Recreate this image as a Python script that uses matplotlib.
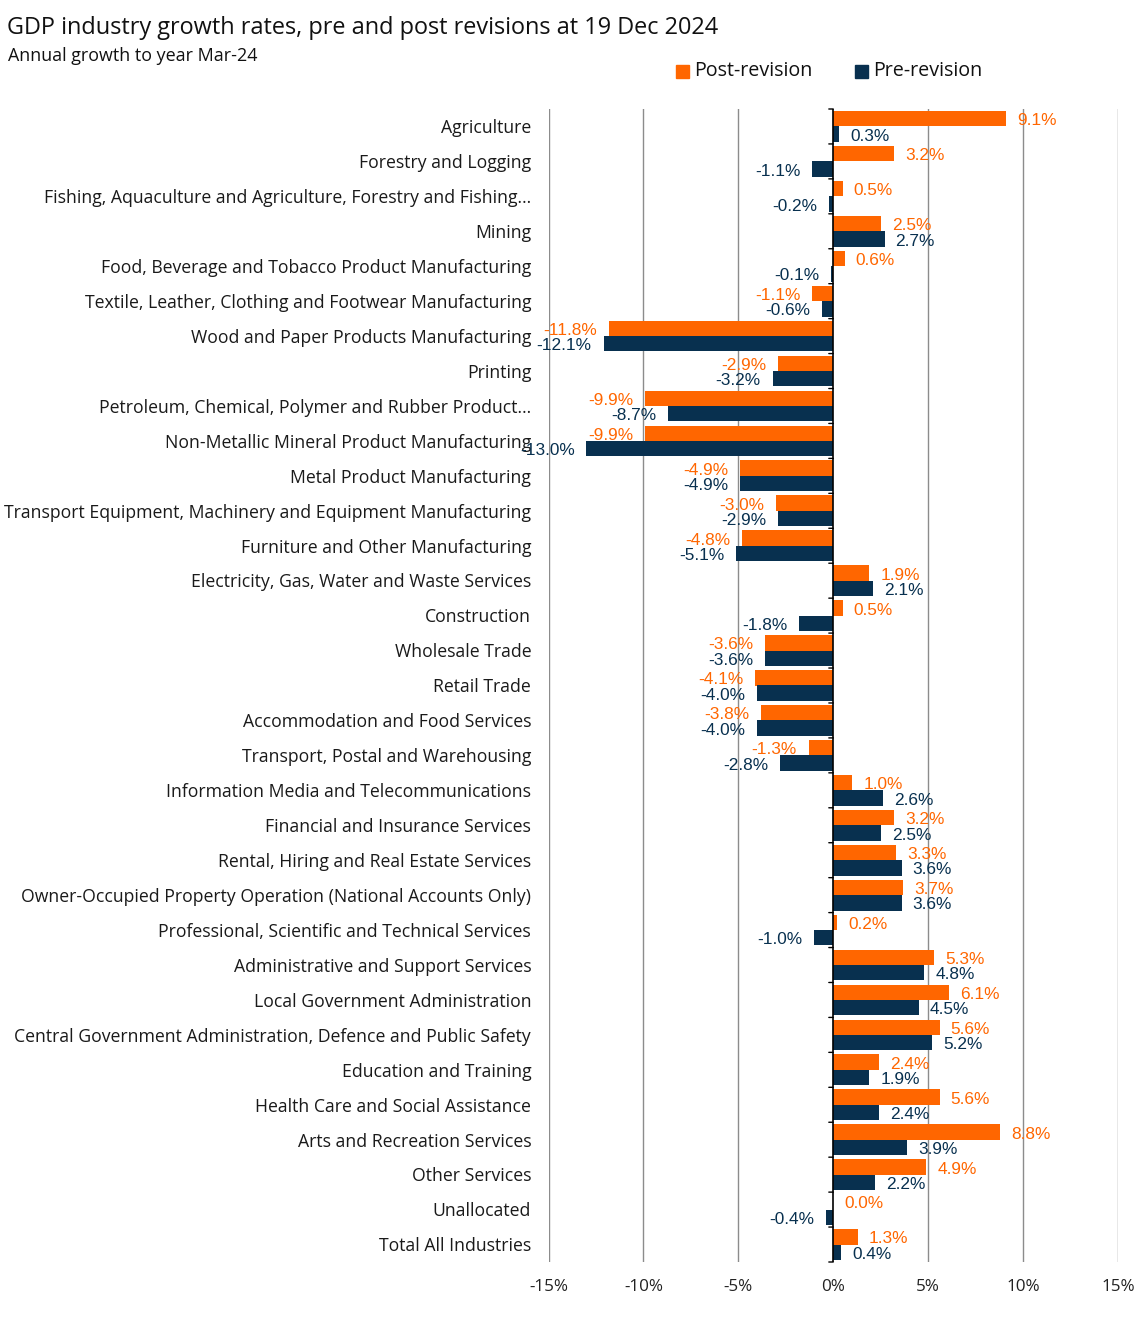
import matplotlib
matplotlib.use("Agg")
import matplotlib.pyplot as plt
import numpy as np
from matplotlib.patches import Rectangle

categories = [
    "Agriculture",
    "Forestry and Logging",
    "Fishing, Aquaculture and Agriculture, Forestry and Fishing\u2026",
    "Mining",
    "Food, Beverage and Tobacco Product Manufacturing",
    "Textile, Leather, Clothing and Footwear Manufacturing",
    "Wood and Paper Products Manufacturing",
    "Printing",
    "Petroleum, Chemical, Polymer and Rubber Product\u2026",
    "Non-Metallic Mineral Product Manufacturing",
    "Metal Product Manufacturing",
    "Transport Equipment, Machinery and Equipment Manufacturing",
    "Furniture and Other Manufacturing",
    "Electricity, Gas, Water and Waste Services",
    "Construction",
    "Wholesale Trade",
    "Retail Trade",
    "Accommodation and Food Services",
    "Transport, Postal and Warehousing",
    "Information Media and Telecommunications",
    "Financial and Insurance Services",
    "Rental, Hiring and Real Estate Services",
    "Owner-Occupied Property Operation (National Accounts Only)",
    "Professional, Scientific and Technical Services",
    "Administrative and Support Services",
    "Local Government Administration",
    "Central Government Administration, Defence and Public Safety",
    "Education and Training",
    "Health Care and Social Assistance",
    "Arts and Recreation Services",
    "Other Services",
    "Unallocated",
    "Total All Industries",
]

post_revision = [9.1, 3.2, 0.5, 2.5, 0.6, -1.1, -11.8, -2.9, -9.9, -9.9, -4.9, -3.0, -4.8,
                 1.9, 0.5, -3.6, -4.1, -3.8, -1.3, 1.0, 3.2, 3.3, 3.7, 0.2, 5.3, 6.1, 5.6,
                 2.4, 5.6, 8.8, 4.9, 0.0, 1.3]
pre_revision = [0.3, -1.1, -0.2, 2.7, -0.1, -0.6, -12.1, -3.2, -8.7, -13.0, -4.9, -2.9, -5.1,
                2.1, -1.8, -3.6, -4.0, -4.0, -2.8, 2.6, 2.5, 3.6, 3.6, -1.0, 4.8, 4.5, 5.2,
                1.9, 2.4, 3.9, 2.2, -0.4, 0.4]

x_ticks = [-15, -10, -5, 0, 5, 10, 15]
x_tick_labels = ["-15%", "-10%", "-5%", "0%", "5%", "10%", "15%"]

ORANGE = "#FF6600"
NAVY = "#08304F"
LABEL_FONT = ["Open Sans", "DejaVu Sans"]
VAL_FONT = ["Liberation Sans", "DejaVu Sans"]

W, H = 1147, 1340
fig = plt.figure(figsize=(W / 100, H / 100), dpi=100)
left_px, right_px, top_px, bot_px = 548.5, 1118, 109, 1262
ax = fig.add_axes([left_px / W, 1 - bot_px / H, (right_px - left_px) / W, (bot_px - top_px) / H])

n = len(categories)
y = np.arange(n)
h = 0.44
ax.barh(y - h / 2, post_revision, height=h, color=ORANGE, zorder=3)
ax.barh(y + h / 2, pre_revision, height=h, color=NAVY, zorder=3)

ax.set_xlim(-15, 15)
ax.set_ylim(n - 0.5, -0.5)
for s in ax.spines.values():
    s.set_visible(False)

# gridlines
for xv in x_ticks:
    if xv != 0:
        ax.axvline(xv, color="#8c8c8c", lw=1.0, zorder=1)
# zero axis with ticks
ax.axvline(0, color="black", lw=1.2, zorder=4)
for b in np.arange(n + 1) - 0.5:
    ax.annotate("", xy=(0, b), xycoords="data", xytext=(-3.2, 0), textcoords="offset points",
                arrowprops=dict(arrowstyle="-", color="black", lw=1.0, shrinkA=0, shrinkB=0))

ax.set_yticks([])
ax.set_xticks(x_ticks)
ax.set_xticklabels(x_tick_labels, fontsize=12.3, family=LABEL_FONT, color="#222222")
ax.tick_params(axis="x", length=0, pad=12)

# category labels
for i, c in enumerate(categories):
    ax.annotate(c, xy=(0, i), xycoords=("axes fraction", "data"), xytext=(-12.5, -1.3),
                textcoords="offset points", ha="right", va="center", fontsize=12.7,
                family=LABEL_FONT, color="#1a1a1a")

# value labels
def add_labels(vals, offset, color):
    for i, v in enumerate(vals):
        yy = i + offset
        if v >= 0:
            ax.annotate(f"{v:.1f}%", xy=(v, yy), xytext=(8, -1.5), textcoords="offset points",
                        ha="left", va="center", fontsize=12.4, family=VAL_FONT, color=color, zorder=5)
        else:
            ax.annotate(f"{v:.1f}%", xy=(v, yy), xytext=(-8.5, -1.5), textcoords="offset points",
                        ha="right", va="center", fontsize=12.4, family=VAL_FONT, color=color, zorder=5)

add_labels(post_revision, -h / 2, ORANGE)
add_labels(pre_revision, h / 2, NAVY)

# title & subtitle
fig.text(7 / W, 1 - 28 / H, "GDP industry growth rates, pre and post revisions at 19 Dec 2024",
         ha="left", va="center", fontsize=16.9, family=LABEL_FONT, color="#111111")
fig.text(8 / W, 1 - 56 / H, "Annual growth to year Mar-24", ha="left", va="center",
         fontsize=12.9, family=LABEL_FONT, color="#111111")

# legend
for x0, col, lab in [(676, ORANGE, "Post-revision"), (855, NAVY, "Pre-revision")]:
    fig.patches.append(Rectangle((x0 / W, 1 - 78 / H), 13 / W, 13 / H, transform=fig.transFigure,
                                 color=col))
    fig.text((x0 + 18) / W, 1 - 71 / H, lab, ha="left", va="center", fontsize=14.2,
             family=LABEL_FONT, color="#111111")

fig.savefig("out.png", dpi=100)
